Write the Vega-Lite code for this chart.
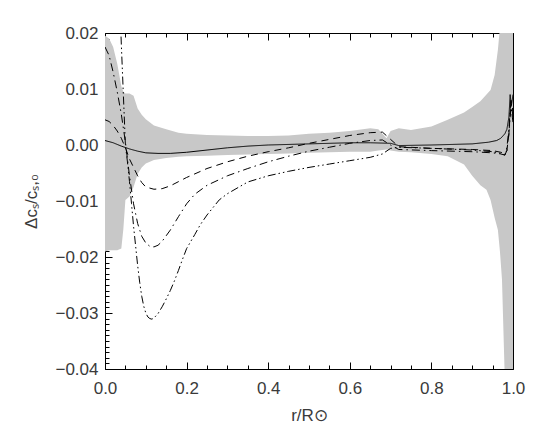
{
  "$schema": "https://vega.github.io/schema/vega-lite/v6.json",
  "width": 408,
  "height": 336,
  "autosize": "none",
  "padding": {"left": 105, "top": 33, "right": 32, "bottom": 67},
  "background": "white",
  "config": {
    "view": {"stroke": null},
    "axis": {
      "labelFont": "Liberation Sans",
      "labelFontSize": 17,
      "labelColor": "#3a3a3a",
      "titleFont": "Liberation Sans",
      "titleFontSize": 17,
      "titleFontWeight": "normal",
      "titleColor": "#3a3a3a",
      "domainColor": "#000",
      "domainWidth": 1,
      "tickColor": "#000",
      "tickWidth": 1,
      "grid": false
    }
  },
  "datasets": {
    "band": [
      {"r": 0.0, "lo": -0.019, "hi": 0.0195},
      {"r": 0.01, "lo": -0.0188, "hi": 0.019},
      {"r": 0.02, "lo": -0.0188, "hi": 0.0175},
      {"r": 0.03, "lo": -0.0188, "hi": 0.0145},
      {"r": 0.04, "lo": -0.0185, "hi": 0.0105},
      {"r": 0.045, "lo": -0.015, "hi": 0.0095},
      {"r": 0.05, "lo": -0.0098, "hi": 0.0092},
      {"r": 0.06, "lo": -0.0092, "hi": 0.0092},
      {"r": 0.07, "lo": -0.0075, "hi": 0.0088},
      {"r": 0.08, "lo": -0.0052, "hi": 0.0065},
      {"r": 0.09, "lo": -0.004, "hi": 0.0054},
      {"r": 0.1, "lo": -0.0033, "hi": 0.0046},
      {"r": 0.12, "lo": -0.0027, "hi": 0.0035},
      {"r": 0.15, "lo": -0.0023, "hi": 0.0028},
      {"r": 0.18, "lo": -0.0021, "hi": 0.0022},
      {"r": 0.2, "lo": -0.002, "hi": 0.002},
      {"r": 0.25, "lo": -0.0019, "hi": 0.0018},
      {"r": 0.3, "lo": -0.0018, "hi": 0.0017},
      {"r": 0.35, "lo": -0.0017, "hi": 0.0016},
      {"r": 0.4, "lo": -0.0016, "hi": 0.0016},
      {"r": 0.45, "lo": -0.0015, "hi": 0.0017},
      {"r": 0.5, "lo": -0.0014, "hi": 0.002},
      {"r": 0.55, "lo": -0.0013, "hi": 0.0022},
      {"r": 0.6, "lo": -0.0012, "hi": 0.0025},
      {"r": 0.65, "lo": -0.0012, "hi": 0.003},
      {"r": 0.67, "lo": -0.001, "hi": 0.0028},
      {"r": 0.69, "lo": -0.0008, "hi": 0.0012},
      {"r": 0.7, "lo": -0.001, "hi": 0.0025},
      {"r": 0.72, "lo": -0.0012, "hi": 0.003},
      {"r": 0.75, "lo": -0.0013, "hi": 0.0027},
      {"r": 0.8, "lo": -0.0016, "hi": 0.0033},
      {"r": 0.84, "lo": -0.002, "hi": 0.0045},
      {"r": 0.88, "lo": -0.0035, "hi": 0.0058},
      {"r": 0.9, "lo": -0.0055, "hi": 0.0068},
      {"r": 0.92, "lo": -0.0072, "hi": 0.0078},
      {"r": 0.935, "lo": -0.008, "hi": 0.009},
      {"r": 0.945, "lo": -0.0098, "hi": 0.0098},
      {"r": 0.955, "lo": -0.013, "hi": 0.0125},
      {"r": 0.963, "lo": -0.0152, "hi": 0.017},
      {"r": 0.968, "lo": -0.019, "hi": 0.021},
      {"r": 0.973, "lo": -0.024, "hi": 0.03},
      {"r": 0.98, "lo": -0.042, "hi": 0.04},
      {"r": 1.0, "lo": -0.05, "hi": 0.05}
    ],
    "lines": [
      {"model": "A", "r": 0.0, "v": 0.0008},
      {"model": "A", "r": 0.02, "v": 0.0004},
      {"model": "A", "r": 0.04, "v": -0.0002},
      {"model": "A", "r": 0.06, "v": -0.0007},
      {"model": "A", "r": 0.08, "v": -0.0011},
      {"model": "A", "r": 0.1, "v": -0.0014},
      {"model": "A", "r": 0.13, "v": -0.0015},
      {"model": "A", "r": 0.16, "v": -0.0015},
      {"model": "A", "r": 0.2, "v": -0.0013},
      {"model": "A", "r": 0.25, "v": -0.0009},
      {"model": "A", "r": 0.3, "v": -0.0005},
      {"model": "A", "r": 0.35, "v": -0.0002},
      {"model": "A", "r": 0.4, "v": 0.0},
      {"model": "A", "r": 0.5, "v": 0.0002},
      {"model": "A", "r": 0.6, "v": 0.0004},
      {"model": "A", "r": 0.65, "v": 0.0004},
      {"model": "A", "r": 0.7, "v": 0.0003},
      {"model": "A", "r": 0.72, "v": -0.0001},
      {"model": "A", "r": 0.8, "v": 0.0},
      {"model": "A", "r": 0.9, "v": 0.0002},
      {"model": "A", "r": 0.94, "v": 0.0005},
      {"model": "A", "r": 0.96, "v": 0.0008},
      {"model": "A", "r": 0.97, "v": 0.0012},
      {"model": "A", "r": 0.98, "v": 0.002},
      {"model": "A", "r": 0.985, "v": 0.0028},
      {"model": "A", "r": 0.99, "v": 0.005},
      {"model": "A", "r": 0.993, "v": 0.009},
      {"model": "A", "r": 0.996, "v": 0.007},
      {"model": "A", "r": 1.0, "v": 0.009},
      {"model": "B", "r": 0.0, "v": 0.0045},
      {"model": "B", "r": 0.01, "v": 0.0042},
      {"model": "B", "r": 0.02, "v": 0.0035},
      {"model": "B", "r": 0.03, "v": 0.0025},
      {"model": "B", "r": 0.04, "v": 0.0012},
      {"model": "B", "r": 0.05, "v": -0.0005},
      {"model": "B", "r": 0.06, "v": -0.0025},
      {"model": "B", "r": 0.07, "v": -0.004},
      {"model": "B", "r": 0.08, "v": -0.0055},
      {"model": "B", "r": 0.09, "v": -0.0067},
      {"model": "B", "r": 0.1, "v": -0.0075},
      {"model": "B", "r": 0.12, "v": -0.0079},
      {"model": "B", "r": 0.14, "v": -0.0078},
      {"model": "B", "r": 0.16, "v": -0.0073},
      {"model": "B", "r": 0.2, "v": -0.0058},
      {"model": "B", "r": 0.25, "v": -0.0042},
      {"model": "B", "r": 0.3, "v": -0.003},
      {"model": "B", "r": 0.35, "v": -0.002},
      {"model": "B", "r": 0.4, "v": -0.0012},
      {"model": "B", "r": 0.45, "v": -0.0005},
      {"model": "B", "r": 0.5, "v": 0.0003},
      {"model": "B", "r": 0.55, "v": 0.001},
      {"model": "B", "r": 0.6, "v": 0.0017},
      {"model": "B", "r": 0.65, "v": 0.0022},
      {"model": "B", "r": 0.68, "v": 0.0023},
      {"model": "B", "r": 0.7, "v": 0.001},
      {"model": "B", "r": 0.72, "v": -0.0003},
      {"model": "B", "r": 0.8, "v": -0.0006},
      {"model": "B", "r": 0.9, "v": -0.0008},
      {"model": "B", "r": 0.95, "v": -0.001},
      {"model": "B", "r": 0.97, "v": -0.0013},
      {"model": "B", "r": 0.98, "v": -0.0015},
      {"model": "B", "r": 0.985, "v": -0.001},
      {"model": "B", "r": 0.99, "v": 0.002},
      {"model": "B", "r": 0.995, "v": 0.008},
      {"model": "B", "r": 1.0, "v": 0.006},
      {"model": "C", "r": 0.0, "v": 0.0175},
      {"model": "C", "r": 0.01, "v": 0.016},
      {"model": "C", "r": 0.02, "v": 0.013},
      {"model": "C", "r": 0.03, "v": 0.0095},
      {"model": "C", "r": 0.04, "v": 0.0055},
      {"model": "C", "r": 0.05, "v": 0.0005},
      {"model": "C", "r": 0.06, "v": -0.0055},
      {"model": "C", "r": 0.07, "v": -0.0105},
      {"model": "C", "r": 0.08, "v": -0.014},
      {"model": "C", "r": 0.09, "v": -0.0163},
      {"model": "C", "r": 0.1, "v": -0.0175},
      {"model": "C", "r": 0.11, "v": -0.0181},
      {"model": "C", "r": 0.12, "v": -0.0182},
      {"model": "C", "r": 0.13, "v": -0.0179},
      {"model": "C", "r": 0.14, "v": -0.0172},
      {"model": "C", "r": 0.16, "v": -0.0152},
      {"model": "C", "r": 0.18, "v": -0.0128},
      {"model": "C", "r": 0.2, "v": -0.0105},
      {"model": "C", "r": 0.22, "v": -0.0088},
      {"model": "C", "r": 0.25, "v": -0.0072},
      {"model": "C", "r": 0.3, "v": -0.0055},
      {"model": "C", "r": 0.35, "v": -0.0042},
      {"model": "C", "r": 0.4, "v": -0.003},
      {"model": "C", "r": 0.45, "v": -0.002},
      {"model": "C", "r": 0.5, "v": -0.0011},
      {"model": "C", "r": 0.55, "v": -0.0004},
      {"model": "C", "r": 0.6, "v": 0.0003},
      {"model": "C", "r": 0.65, "v": 0.0008},
      {"model": "C", "r": 0.68, "v": 0.0009},
      {"model": "C", "r": 0.7, "v": 0.0},
      {"model": "C", "r": 0.72, "v": -0.0008},
      {"model": "C", "r": 0.8, "v": -0.001},
      {"model": "C", "r": 0.9, "v": -0.0012},
      {"model": "C", "r": 0.95, "v": -0.0014},
      {"model": "C", "r": 0.97, "v": -0.0016},
      {"model": "C", "r": 0.98, "v": -0.0018},
      {"model": "C", "r": 0.985, "v": -0.0005},
      {"model": "C", "r": 0.99, "v": 0.003},
      {"model": "C", "r": 0.995, "v": 0.008},
      {"model": "C", "r": 1.0, "v": 0.005},
      {"model": "D", "r": 0.0, "v": 0.08},
      {"model": "D", "r": 0.02, "v": 0.055},
      {"model": "D", "r": 0.035, "v": 0.028},
      {"model": "D", "r": 0.04, "v": 0.018},
      {"model": "D", "r": 0.045, "v": 0.009},
      {"model": "D", "r": 0.05, "v": 0.0},
      {"model": "D", "r": 0.055, "v": -0.003},
      {"model": "D", "r": 0.06, "v": -0.0065},
      {"model": "D", "r": 0.065, "v": -0.0105},
      {"model": "D", "r": 0.07, "v": -0.0145},
      {"model": "D", "r": 0.075, "v": -0.018},
      {"model": "D", "r": 0.08, "v": -0.0215},
      {"model": "D", "r": 0.085, "v": -0.0245},
      {"model": "D", "r": 0.09, "v": -0.027},
      {"model": "D", "r": 0.095, "v": -0.0288},
      {"model": "D", "r": 0.1, "v": -0.03},
      {"model": "D", "r": 0.105, "v": -0.0307},
      {"model": "D", "r": 0.11, "v": -0.031},
      {"model": "D", "r": 0.115, "v": -0.0311},
      {"model": "D", "r": 0.12, "v": -0.0309},
      {"model": "D", "r": 0.13, "v": -0.0301},
      {"model": "D", "r": 0.14, "v": -0.0289},
      {"model": "D", "r": 0.15, "v": -0.0275},
      {"model": "D", "r": 0.16, "v": -0.026},
      {"model": "D", "r": 0.17, "v": -0.0243},
      {"model": "D", "r": 0.18, "v": -0.0224},
      {"model": "D", "r": 0.19, "v": -0.0204},
      {"model": "D", "r": 0.2, "v": -0.0185},
      {"model": "D", "r": 0.22, "v": -0.016},
      {"model": "D", "r": 0.233, "v": -0.0143},
      {"model": "D", "r": 0.25, "v": -0.0125},
      {"model": "D", "r": 0.28, "v": -0.0098},
      {"model": "D", "r": 0.3, "v": -0.0087},
      {"model": "D", "r": 0.35, "v": -0.0066},
      {"model": "D", "r": 0.4, "v": -0.0055},
      {"model": "D", "r": 0.45, "v": -0.0047},
      {"model": "D", "r": 0.5, "v": -0.004},
      {"model": "D", "r": 0.55, "v": -0.0034},
      {"model": "D", "r": 0.6, "v": -0.0028},
      {"model": "D", "r": 0.65, "v": -0.0022},
      {"model": "D", "r": 0.68, "v": -0.0016},
      {"model": "D", "r": 0.7, "v": -0.0006},
      {"model": "D", "r": 0.72, "v": -0.0004},
      {"model": "D", "r": 0.8, "v": -0.0006},
      {"model": "D", "r": 0.9, "v": -0.0009},
      {"model": "D", "r": 0.95, "v": -0.0012},
      {"model": "D", "r": 0.97, "v": -0.0015},
      {"model": "D", "r": 0.98, "v": -0.0018},
      {"model": "D", "r": 0.985, "v": -0.001},
      {"model": "D", "r": 0.99, "v": 0.002},
      {"model": "D", "r": 0.995, "v": 0.007},
      {"model": "D", "r": 1.0, "v": 0.004}
    ]
  },
  "layer": [
    {
      "data": {"name": "band"},
      "mark": {"type": "area", "color": "#c8c8c8", "clip": true},
      "encoding": {
        "x": {
          "field": "r", "type": "quantitative",
          "scale": {"domain": [0, 1], "nice": false, "zero": false},
          "axis": {
            "orient": "bottom",
            "title": "r/R⊙",
            "titlePadding": 8,
            "values": [0,0.05,0.1,0.15,0.2,0.25,0.3,0.35,0.4,0.45,0.5,0.55,0.6,0.65,0.7,0.75,0.8,0.85,0.9,0.95,1],
            "labelExpr": "abs(datum.value*5 - round(datum.value*5)) < 0.001 ? format(datum.value, '.1f') : ''",
            "tickSize": {"condition": {"test": "abs(datum.value*5 - round(datum.value*5)) < 0.001", "value": -7}, "value": -4},
            "labelPadding": 18,
            "labelFlush": false,
            "labelOverlap": false
          }
        },
        "y": {
          "field": "lo", "type": "quantitative",
          "scale": {"domain": [-0.04, 0.02], "nice": false, "zero": false},
          "axis": {
            "orient": "left",
            "title": "Δcₛ/cₛ,₀",
            "titlePadding": 14,
            "values": [-0.04,-0.039,-0.038,-0.037,-0.036,-0.035,-0.034,-0.033,-0.032,-0.031,-0.03,-0.029,-0.028,-0.027,-0.026,-0.025,-0.024,-0.023,-0.022,-0.021,-0.02,-0.019,-0.018,-0.017,-0.016,-0.015,-0.014,-0.013,-0.012,-0.011,-0.01,-0.009,-0.008,-0.007,-0.006,-0.005,-0.004,-0.003,-0.002,-0.001,0,0.001,0.002,0.003,0.004,0.005,0.006,0.007,0.008,0.009,0.01,0.011,0.012,0.013,0.014,0.015,0.016,0.017,0.018,0.019,0.02],
            "labelExpr": "abs(datum.value*100 - round(datum.value*100)) < 0.001 ? format(datum.value, '.2f') : ''",
            "tickSize": {"condition": {"test": "abs(datum.value*100 - round(datum.value*100)) < 0.001", "value": -7}, "value": -4},
            "labelPadding": 14,
            "labelFlush": false,
            "labelOverlap": false
          }
        },
        "y2": {"field": "hi"}
      }
    },
    {
      "data": {"name": "lines"},
      "mark": {"type": "line", "color": "#000", "strokeWidth": 1, "clip": true},
      "encoding": {
        "x": {
          "field": "r", "type": "quantitative",
          "axis": {
            "orient": "top",
            "title": null,
            "labels": false,
            "values": [0,0.05,0.1,0.15,0.2,0.25,0.3,0.35,0.4,0.45,0.5,0.55,0.6,0.65,0.7,0.75,0.8,0.85,0.9,0.95,1],
            "tickSize": {"condition": {"test": "abs(datum.value*5 - round(datum.value*5)) < 0.001", "value": -7}, "value": -4}
          }
        },
        "y": {
          "field": "v", "type": "quantitative",
          "axis": {
            "orient": "right",
            "title": null,
            "labels": false,
            "values": [-0.04,-0.039,-0.038,-0.037,-0.036,-0.035,-0.034,-0.033,-0.032,-0.031,-0.03,-0.029,-0.028,-0.027,-0.026,-0.025,-0.024,-0.023,-0.022,-0.021,-0.02,-0.019,-0.018,-0.017,-0.016,-0.015,-0.014,-0.013,-0.012,-0.011,-0.01,-0.009,-0.008,-0.007,-0.006,-0.005,-0.004,-0.003,-0.002,-0.001,0,0.001,0.002,0.003,0.004,0.005,0.006,0.007,0.008,0.009,0.01,0.011,0.012,0.013,0.014,0.015,0.016,0.017,0.018,0.019,0.02],
            "tickSize": {"condition": {"test": "abs(datum.value*100 - round(datum.value*100)) < 0.001", "value": -7}, "value": -4}
          }
        },
        "strokeDash": {
          "field": "model", "type": "nominal",
          "scale": {"domain": ["A", "B", "C", "D"], "range": [[1, 0], [7, 5], [8, 4, 1.5, 4], [8, 3, 1.5, 3, 1.5, 3]]},
          "legend": null
        }
      }
    }
  ],
  "resolve": {"axis": {"x": "independent", "y": "independent"}}
}
